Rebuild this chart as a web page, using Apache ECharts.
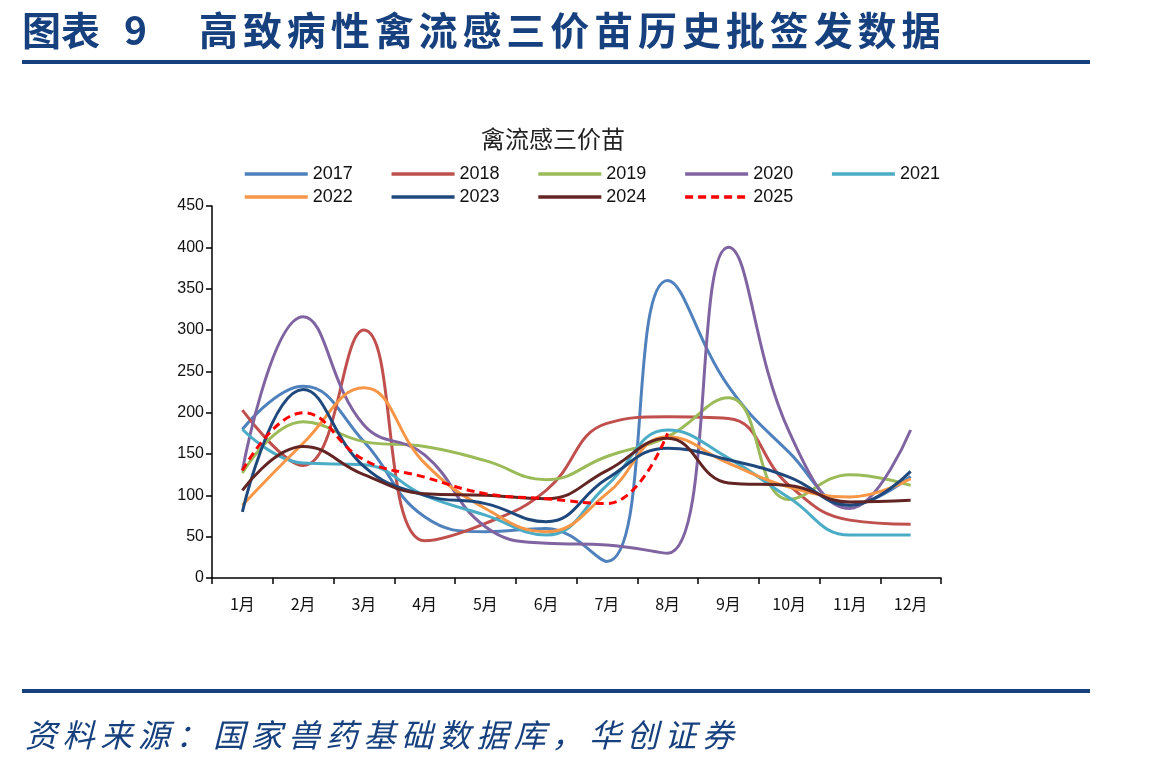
<!DOCTYPE html>
<html><head><meta charset="utf-8">
<script src="https://cdn.jsdelivr.net/npm/echarts@6/dist/echarts.min.js"></script>
<style>
html,body{margin:0;padding:0;background:#fff;width:1149px;height:768px;overflow:hidden;position:relative;font-family:"Noto Sans CJK SC",sans-serif;}
#title{position:absolute;left:22px;top:2px;font-size:39px;font-weight:bold;color:#17407e;white-space:nowrap;line-height:52px;}
#title .n{letter-spacing:4.9px;}
.rule{position:absolute;left:22px;width:1068px;height:4px;background:#17407e;}
#src{position:absolute;left:25px;top:711px;font-size:32px;font-style:italic;color:#17407e;letter-spacing:5.6px;white-space:nowrap;line-height:44px;}
#chart{position:absolute;left:0;top:0;width:1149px;height:768px;}
</style></head>
<body>
<div id="chart"></div>
<div id="title">图表<span style="display:inline-block;width:24px"></span>9<span style="display:inline-block;width:52px"></span><span class="n">高致病性禽流感三价苗历史批签发数据</span></div>
<div class="rule" style="top:60px"></div>
<div class="rule" style="top:689px"></div>
<div id="src">资料来源：国家兽药基础数据库，华创证券</div>
<script>
const categories = ['1月','2月','3月','4月','5月','6月','7月','8月','9月','10月','11月','12月'];
const s2017 = [180, 232, 165, 74, 56, 60, 20, 360, 232, 152, 88, 123];
const s2018 = [203, 136, 300, 45, 66, 106, 187, 195, 193, 112, 70, 65];
const s2019 = [127, 189, 165, 159, 142, 119, 147, 171, 218, 95, 125, 112];
const s2020 = [130, 316, 185, 149, 62, 42, 40, 30, 400, 177, 84, 179];
const s2021 = [180, 139, 137, 100, 76, 52, 112, 179, 145, 97, 52, 52];
const s2022 = [88, 163, 230, 139, 84, 56, 102, 171, 139, 110, 98, 120];
const s2023 = [80, 228, 135, 100, 90, 68, 120, 157, 143, 122, 88, 129];
const s2024 = [106, 159, 125, 102, 100, 96, 130, 169, 115, 112, 92, 94];
const s2025 = [130, 200, 143, 122, 102, 96, 90, 175];
const yTicks = [0, 50, 100, 150, 200, 250, 300, 350, 400, 450];
const legendRow1 = ['2017', '2018', '2019', '2020', '2021'];
const legendRow2 = ['2022', '2023', '2024', '2025'];

const seriesDefs = [
  ['2017', s2017, '#4f81bd', 'solid'],
  ['2018', s2018, '#c0504d', 'solid'],
  ['2019', s2019, '#9bbb59', 'solid'],
  ['2020', s2020, '#8064a2', 'solid'],
  ['2021', s2021, '#4bacc6', 'solid'],
  ['2022', s2022, '#f79646', 'solid'],
  ['2023', s2023, '#1f497d', 'solid'],
  ['2024', s2024, '#632523', 'solid'],
  ['2025', s2025, '#ff0000', 'dashed']
];

const legendCommon = {
  padding: 0,
  itemWidth: 63, itemHeight: 14, itemGap: 37,
  itemStyle: {opacity: 0},
  lineStyle: {width: 3.5},
  textStyle: {fontSize: 18, color: '#111', fontFamily: 'Liberation Sans, Arial, sans-serif'}
};

const chart = echarts.init(document.getElementById('chart'));
chart.setOption({
  animation: false,
  title: {
    text: '禽流感三价苗', left: 548, top: 122, textAlign: 'center',
    textStyle: {fontSize: 24, fontWeight: 'normal', color: '#222', fontFamily: '"Noto Sans CJK SC", sans-serif'}
  },
  legend: [
    Object.assign({left: 243, top: 165, data: legendRow1}, legendCommon),
    Object.assign({left: 243, top: 188, data: legendRow2}, legendCommon)
  ],
  grid: {left: 212, right: 208, top: 206, bottom: 190, containLabel: false},
  xAxis: {
    type: 'category', data: categories, boundaryGap: true,
    axisLine: {lineStyle: {color: '#000', width: 1.5}},
    axisTick: {show: true, inside: false, length: 6, alignWithLabel: false, lineStyle: {color: '#000', width: 1.5}},
    axisLabel: {fontSize: 16, color: '#111', margin: 18, fontFamily: '"Noto Sans CJK SC", sans-serif'},
    splitLine: {show: false}
  },
  yAxis: {
    type: 'value', min: 0, max: 450, interval: 50,
    axisLine: {show: true, lineStyle: {color: '#000', width: 1.5}},
    axisTick: {show: true, length: 6, lineStyle: {color: '#000', width: 1.5}},
    axisLabel: {fontSize: 16, color: '#111', margin: 8, fontFamily: 'Liberation Sans, Arial, sans-serif',
      formatter: v => yTicks.includes(v) ? String(v) : ''},
    splitLine: {show: false}
  },
  series: seriesDefs.map(d => ({
    name: d[0], type: 'line', data: d[1], smooth: 0.45,
    symbol: 'none', showSymbol: false,
    lineStyle: {color: d[2], width: 3, type: d[3] === 'dashed' ? [8, 5] : 'solid'},
    itemStyle: {color: d[2]},
    z: d[0] === '2025' ? 5 : 2
  }))
});
</script>
</body></html>
